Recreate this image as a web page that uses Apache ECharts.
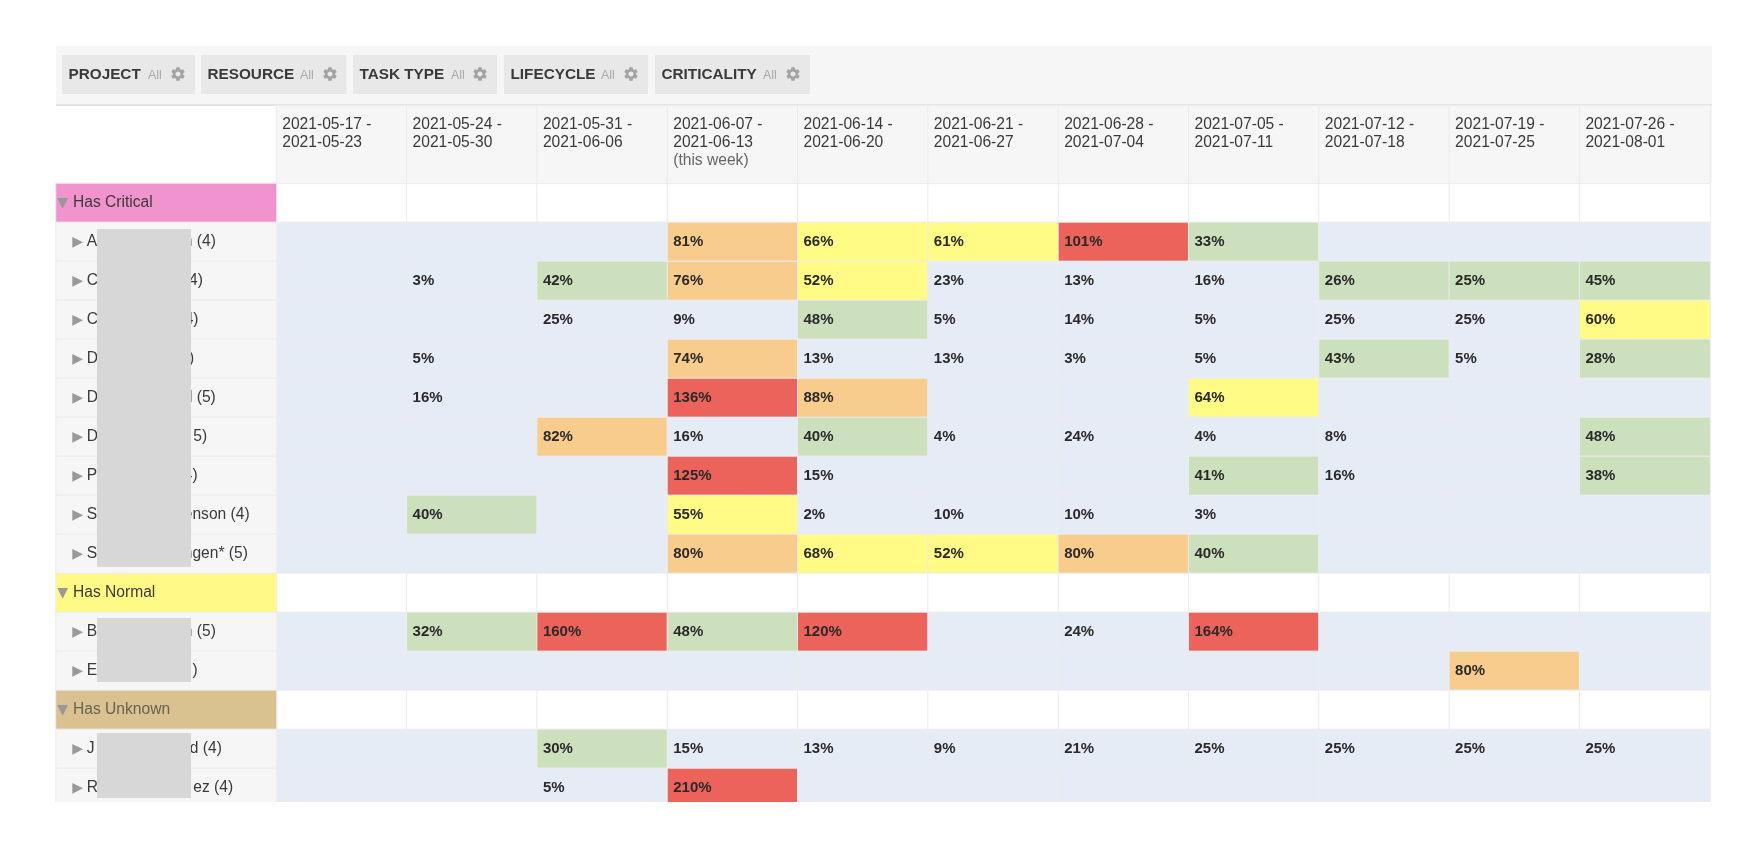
<!DOCTYPE html>
<html><head><meta charset="utf-8">
<style>html,body{margin:0;padding:0;background:#fff}#c{width:1764px;height:848px;filter:blur(0.45px)}</style>
<script src="https://cdn.jsdelivr.net/npm/echarts@6/dist/echarts.min.js"></script>
</head><body><div id="c"></div>
<script>
const gap = n => '\u00a0'.repeat(n);
const weeks = ['2021-05-17 -\n2021-05-23','2021-05-24 -\n2021-05-30','2021-05-31 -\n2021-06-06','2021-06-07 -\n2021-06-13\n{w|(this week)}','2021-06-14 -\n2021-06-20','2021-06-21 -\n2021-06-27','2021-06-28 -\n2021-07-04','2021-07-05 -\n2021-07-11','2021-07-12 -\n2021-07-18','2021-07-19 -\n2021-07-25','2021-07-26 -\n2021-08-01'];
const groupCritical = 'Has Critical', groupNormal = 'Has Normal', groupUnknown = 'Has Unknown';
const rowNames = [groupCritical,'A'+gap(20)+'n (4)','C'+gap(21)+'4)','C'+gap(20)+'4)','D'+gap(21)+')','D'+gap(21)+'l (5)','D'+gap(22)+'5)','P'+gap(20)+'4)','S'+gap(20)+'enson (4)','S'+gap(20)+'ngen* (5)',groupNormal,'B'+gap(20)+'n (5)','E'+gap(22)+')',groupUnknown,'J'+gap(22)+'d (4)','R'+gap(22)+'ez (4)'];
const E = null;
// one list of weekly load (%) per resource row; group rows have none
const critA = [E,E,E,81,66,61,101,33,E,E,E];
const critC1 = [E,3,42,76,52,23,13,16,26,25.4,45]; // 25.4: shown as 25% but above the green threshold
const critC2 = [E,E,25,9,48,5,14,5,25,25,60];
const critD1 = [E,5,E,74,13,13,3,5,43,5,28];
const critD2 = [E,16,E,136,88,E,E,64,E,E,E];
const critD3 = [E,E,82,16,40,4,24,4,8,E,48];
const critP = [E,E,E,125,15,E,E,41,16,E,38];
const critS1 = [E,40,E,55,2,10,10,3,E,E,E];
const critS2 = [E,E,E,80,68,52,80,40,E,E,E];
const normB = [E,32,160,48,120,E,24,164,E,E,E];
const normE = [E,E,E,E,E,E,E,E,E,80,E];
const unkJ = [E,E,30,15,13,9,21,25,25,25,25];
const unkR = [E,E,5,210,E,E,E,E,E,E,E];
const rowValues = [null,critA,critC1,critC2,critD1,critD2,critD3,critP,critS1,critS2,null,normB,normE,null,unkJ,unkR];
const filterNames = ['PROJECT','RESOURCE','TASK TYPE','LIFECYCLE','CRITICALITY'];

const FONT = '"Liberation Sans", Arial, sans-serif';
const GROUP_COL = {[groupCritical]:'#f193cd',[groupNormal]:'#fff985',[groupUnknown]:'#d9c190'};
const LINE = '#ececec', PANEL = '#f6f6f6';
const GEAR = 'M19.14 12.94c.04-.3.06-.61.06-.94 0-.32-.02-.64-.07-.94l2.03-1.58c.18-.14.23-.41.12-.61l-1.92-3.32c-.12-.22-.37-.29-.59-.22l-2.39.96c-.5-.38-1.03-.7-1.62-.94l-.36-2.54c-.04-.24-.24-.41-.48-.41h-3.84c-.24 0-.43.17-.47.41l-.36 2.54c-.59.24-1.13.57-1.62.94l-2.39-.96c-.22-.08-.47 0-.59.22L2.74 8.87c-.12.21-.08.47.12.61l2.03 1.58c-.05.3-.09.63-.09.94s.02.64.07.94l-2.03 1.58c-.18.14-.23.41-.12.61l1.92 3.32c.12.22.37.29.59.22l2.39-.96c.5.38 1.03.7 1.62.94l.36 2.54c.05.24.24.41.48.41h3.84c.24 0 .44-.17.47-.41l.36-2.54c.59-.24 1.13-.56 1.62-.94l2.39.96c.22.08.47 0 .59-.22l1.92-3.32c.12-.22.07-.47-.12-.61l-2.01-1.58zM12 15.6c-1.98 0-3.6-1.62-3.6-3.6s1.62-3.6 3.6-3.6 3.6 1.62 3.6 3.6-1.62 3.6-3.6 3.6z';
echarts.graphic.registerShape('gear', echarts.graphic.extendPath(GEAR, {}));

const cells = [];
rowValues.forEach((vals,r)=>{ weeks.forEach((w,c)=>{ cells.push([c,r, vals===null ? -1 : (vals[c]===null?0:vals[c])]); }); });

const leftCells = rowNames.map((n,r)=>{
  const isGroup = rowValues[r]===null;
  return {
    name:n,
    value:[0,r,1],
    itemStyle:{color: isGroup ? GROUP_COL[n] : PANEL},
    label:{
      position: isGroup ? [2,20.5] : [17,20.5],
      formatter: isGroup ? '{g|\u25BC}{s|}{'+(n===groupUnknown?'u':'n')+'|'+n+'}' : '{t|\u25B6}{z|}{n|'+n+'}'
    }
  };
});
const leftLabel = {show:true,align:'left',verticalAlign:'middle',
  rich:{
    g:{fontFamily:'DejaVu Sans',fontSize:14,color:'#999'},
    t:{fontFamily:'DejaVu Sans',fontSize:14,color:'#999'},
    s:{width:5},
    z:{width:3.7},
    n:{fontFamily:FONT,fontSize:15.6,color:'#3a3a3a'},
    u:{fontFamily:FONT,fontSize:15.6,color:'#6a6252'}
  }};

const btnX = [[62,195],[201,346.5],[353,497],[504,648],[655,810]];
const allX = [148,300,451,601,763];
const gearX = [178,330,480,631,793];
const toolbar = [
  {type:'rect',shape:{x:56,y:46,width:1656,height:58},style:{fill:PANEL}},
  {type:'rect',shape:{x:56,y:104,width:1656,height:2},style:{fill:'#e4e4e4'}},
  {type:'rect',shape:{x:1710,y:106,width:2,height:77},style:{fill:PANEL}}
];
filterNames.forEach((n,i)=>{
  toolbar.push({type:'rect',shape:{x:btnX[i][0],y:55,width:btnX[i][1]-btnX[i][0],height:39},style:{fill:'#e8e8e8'}});
  toolbar.push({type:'text',x:btnX[i][0]+6.5,y:74.5,style:{text:n,font:'bold 15.3px '+FONT,fill:'#3a3a3a',textVerticalAlign:'middle'}});
  toolbar.push({type:'text',x:allX[i],y:75.5,style:{text:'All',font:'12.5px '+FONT,fill:'#aaa',textVerticalAlign:'middle'}});
  toolbar.push({type:'gear',x:gearX[i]-8.5,y:65.5,scaleX:17/24,scaleY:17/24,style:{fill:'#a3a3a3'}});
});
const masks = [[229,567],[618,682],[733,798]].map(m=>({type:'rect',z:50,shape:{x:97,y:m[0],width:94,height:m[1]-m[0]},style:{fill:'#d7d7d7'}}));
const cover = {type:'rect',z:100,shape:{x:0,y:802,width:1764,height:46},style:{fill:'#fff'}};

const chart = echarts.init(document.getElementById('c'));
chart.setOption({
  animation:false,
  backgroundColor:'#fff',
  grid:[
    {left:276.5,top:183.4,width:1433.5,height:624},
    {left:56,top:183.4,width:220.5,height:624},
    {left:276.5,top:105.5,width:1433.5,height:77.9}
  ],
  xAxis:[
    {type:'category',gridIndex:0,data:weeks,show:false},
    {type:'category',gridIndex:1,data:['row'],show:false},
    {type:'category',gridIndex:2,data:weeks,show:false}
  ],
  yAxis:[
    {type:'category',gridIndex:0,data:rowNames,inverse:true,show:false},
    {type:'category',gridIndex:1,data:rowNames,inverse:true,show:false},
    {type:'category',gridIndex:2,data:['head'],show:false}
  ],
  visualMap:{type:'piecewise',show:false,seriesIndex:0,dimension:2,pieces:[
    {lt:0,color:'#ffffff'},
    {gte:0,lte:25,color:'#e6ecf6'},
    {gt:25,lte:50,color:'#cde0be'},
    {gt:50,lte:70,color:'#fffb85'},
    {gt:70,lte:100,color:'#f8cc8c'},
    {gt:100,color:'#eb635b'}
  ]},
  series:[
    {type:'heatmap',xAxisIndex:0,yAxisIndex:0,data:cells,
     itemStyle:{borderColor:LINE,borderWidth:1},emphasis:{disabled:true},
     label:{show:true,position:[6.5,'50%'],align:'left',verticalAlign:'middle',fontFamily:FONT,fontWeight:'bold',fontSize:15,color:'#2a2a2a',
       formatter:p=>p.value[2]>0?Math.round(p.value[2])+'%':''}},
    {type:'heatmap',xAxisIndex:1,yAxisIndex:1,data:leftCells,
     itemStyle:{borderColor:LINE,borderWidth:1},emphasis:{disabled:true},label:leftLabel},
    {type:'heatmap',xAxisIndex:2,yAxisIndex:2,data:weeks.map((w,c)=>({name:w,value:[c,0,1],itemStyle:{color:PANEL}})),
     itemStyle:{borderColor:LINE,borderWidth:1},emphasis:{disabled:true},
     label:{show:true,position:[6.5,10.5],align:'left',verticalAlign:'top',fontFamily:FONT,fontSize:15.6,lineHeight:18,color:'#3a3a3a',
       formatter:p=>p.name,rich:{w:{fontFamily:FONT,fontSize:15.6,lineHeight:18,color:'#666'}}}}
  ],
  graphic:{elements:toolbar.concat(masks,[cover])}
});
</script></body></html>
